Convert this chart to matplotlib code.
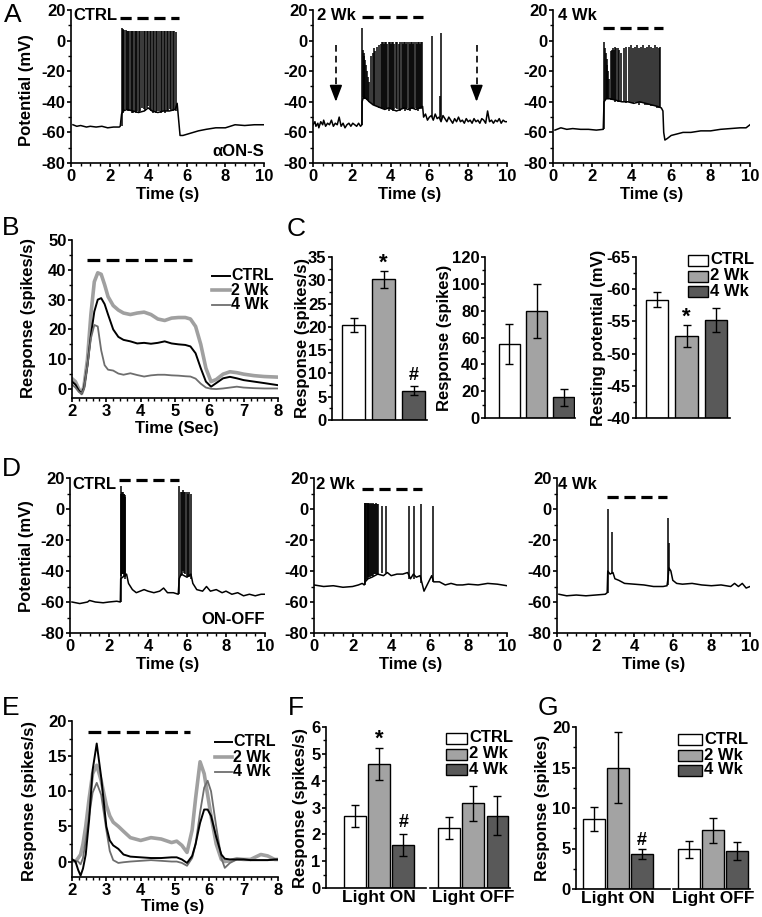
import numpy as np
import matplotlib
matplotlib.use('Agg')
import matplotlib.pyplot as plt
from matplotlib.patches import Rectangle
from matplotlib.lines import Line2D
from matplotlib.ticker import MultipleLocator

plt.rcParams['font.family'] = ['Liberation Sans', 'DejaVu Sans']
plt.rcParams['font.weight'] = 'bold'
plt.rcParams['axes.unicode_minus'] = False

# ---------------- DATA ----------------
groups = ['CTRL', '2 Wk', '4 Wk']
colors = ['#ffffff', '#a3a3a3', '#595959']
line_colors = ['#000000', '#a0a0a0', '#6e6e6e']

# Panel A1 (CTRL, aON-S) baseline trace and spikes
a1_base_t = [0.1, 0.3, 0.5, 0.8, 1.0, 1.3, 1.6, 1.9, 2.2, 2.5, 2.55, 2.62, 2.7, 2.9, 3.2, 3.5, 3.8, 4.0,
             4.2, 4.5, 4.8, 5.1, 5.4, 5.5, 5.55, 5.65, 5.8, 6.2, 6.6, 7.0, 7.5, 8.0, 8.5, 9.0, 9.5, 10.0]
a1_base_v = [-55, -56, -55.5, -56.5, -56, -56.5, -56, -57, -56.5, -56.5, -56, -48, -46, -45, -46, -47, -46, -44,
             -46, -47, -46, -46, -45, -41, -48, -62, -62, -60.5, -59, -58, -57, -57, -55, -55.5, -55, -55]
a1_spk_t = [2.62, 2.67, 2.72, 2.77, 2.83, 2.9, 2.96, 3.02, 3.09, 3.16,
            3.23, 3.3, 3.37, 3.44, 3.52, 3.6, 3.68, 3.76, 3.84, 3.92,
            4.0, 4.08, 4.16, 4.24, 4.32, 4.4, 4.48, 4.56, 4.64, 4.72,
            4.8, 4.88, 4.96, 5.04, 5.12, 5.2, 5.28, 5.36, 5.44]
a1_spk_hi = [8, 7.5, 7, 7, 7, 6.5, 6.5, 6.5, 6, 6,
             6, 6, 6, 6, 6, 6, 6.5, 6, 6, 6,
             6, 6, 6, 6, 6, 6, 6, 6, 6, 6,
             6, 6, 6, 6, 6, 6, 6, 6, 5.5]
a1_spk_lo = [-56, -47, -46, -46, -45, -45, -46, -46, -46, -47,
             -47, -46, -47, -46, -47, -46, -44, -45, -46, -44,
             -43, -45, -46, -47, -46, -47, -46, -46, -47, -46,
             -46, -47, -46, -46, -45, -46, -46, -45, -46]

# Panel A2 (2 Wk)
a2_base_t = [0.0, 0.1, 0.15, 0.25, 0.3, 0.4, 0.5, 0.55, 0.65, 0.75, 0.85, 0.95, 1.05, 1.15, 1.25, 1.35,
             1.45, 1.55, 1.65, 1.75, 1.85, 1.95, 2.05, 2.15, 2.25, 2.35, 2.45, 2.52,
             2.53, 2.6, 2.75, 2.9, 3.1, 3.3, 3.5, 3.7, 3.9, 4.1, 4.3, 4.5, 4.7, 4.9, 5.1, 5.3, 5.5, 5.65,
             5.7, 5.8, 5.9, 6.0, 6.1, 6.2, 6.3, 6.4, 6.5, 6.6, 6.7, 6.8, 6.9, 7.0, 7.1, 7.2, 7.3, 7.4,
             7.5, 7.6, 7.7, 7.8, 7.9, 8.0, 8.1, 8.2, 8.3, 8.4, 8.5, 8.6, 8.7, 8.8, 8.9, 9.0, 9.1, 9.2,
             9.3, 9.4, 9.5, 9.6, 9.7, 9.8, 9.9, 10.0]
a2_base_v = [-55, -53, -56, -54, -57, -53, -55, -52, -56, -54, -55, -52, -56, -54, -55, -50,
             -56, -54, -57, -55, -54, -56, -54, -55, -56, -54, -56, -55,
             -40, -37, -38, -40, -42, -43, -44, -45, -44, -45, -46, -45, -44, -45, -44, -45, -44, -43,
             -50, -48, -52, -50, -49, -52, -48, -51, -50, -53, -49, -51, -53, -50, -52, -54, -51, -53,
             -50, -53, -52, -54, -51, -53, -52, -54, -51, -53, -52, -54, -51, -52, -54, -46, -53, -52,
             -54, -52, -53, -51, -54, -52, -53, -53]
a2_spk_t = [2.52, 2.57, 2.61, 2.65, 2.69, 2.73, 2.78, 2.83, 2.88, 3.0,
            3.08, 3.15, 3.22, 3.3, 3.4,
            3.48, 3.55, 3.6, 3.66, 3.72, 3.78, 3.84, 3.9, 3.96, 4.02, 4.08, 4.14,
            4.2, 4.26, 4.32, 4.45, 4.51, 4.57, 4.63, 4.69, 4.75, 4.81, 4.87, 4.93,
            4.99, 5.05, 5.11, 5.17, 5.23, 5.29, 5.35, 5.41, 5.47, 5.53, 5.59, 5.64,
            6.12, 6.55, 6.6]
a2_spk_hi = [8, -6, -8, -10, -13, -16, -20, -24, -27, -10,
             -8, -5, -7, -4, -3,
             -2, -1, -1, -2, -1, -1, -2, -1, -1, -2, -1, -1,
             -2, -1, -1, -2, -1, -1, -2, -1, -1, -2, -1, -1,
             -2, -1, -1, -2, -1, -1, -2, -1, -1, -2, -1, -1,
             3, -36, 5]
a2_spk_lo = [-55, -37, -37, -38, -38, -38, -39, -39, -40, -41,
             -42, -42, -43, -43, -44,
             -44, -45, -44, -45, -45, -44, -45, -46, -45, -44, -45, -46,
             -45, -44, -45, -45, -46, -45, -44, -45, -46, -45, -44, -45,
             -46, -45, -44, -45, -45, -44, -45, -46, -45, -44, -45, -44,
             -50, -50, -52]
a2_arrow_t = [1.18, 8.43]

# Panel A3 (4 Wk)
a3_base_t = [0.1, 0.4, 0.7, 1.0, 1.4, 1.8, 2.2, 2.55, 2.59, 2.7, 2.9, 3.2, 3.5, 3.8, 4.1, 4.4, 4.7, 5.0,
             5.3, 5.5, 5.58, 5.62, 5.68, 5.8, 6.0, 6.3, 6.6, 7.0, 7.5, 8.0, 8.5, 9.0, 9.5, 9.8, 10.0]
a3_base_v = [-58.5, -57, -58, -57.5, -58, -58, -58.5, -58, -40, -38, -38, -39, -40, -40, -41, -40, -41, -42,
             -43, -44, -46, -60, -65, -64, -62, -61, -60, -60, -59, -59, -58, -57.5, -57, -57, -55]
a3_spk_t = [2.6, 2.64, 2.68, 2.72, 2.76, 2.8, 2.85, 2.92, 2.98, 3.04,
            3.1, 3.16, 3.22, 3.28, 3.34, 3.45,
            3.6, 3.72, 3.85, 3.95, 4.05, 4.15, 4.28, 4.38, 4.48, 4.58,
            4.68, 4.78, 4.88, 4.98, 5.08, 5.18, 5.28, 5.36, 5.44]
a3_spk_hi = [-1, -5, -8, -12, -16, -20, -25, -7, -6, -5,
             -6, -4, -5, -5, -6, -8,
             -5, -4, -4, -3, -5, -4, -3, -5, -4, -3,
             -5, -4, -3, -4, -5, -3, -4, -5, -4]
a3_spk_lo = [-58, -39, -38, -38, -38, -38, -38, -39, -39, -39,
             -39, -40, -39, -40, -40, -40,
             -40, -41, -40, -41, -41, -40, -41, -42, -41, -41,
             -42, -42, -42, -43, -43, -43, -44, -44, -44]

# Panel B (PSTH aON-S)
b_t = [2.0, 2.1, 2.2, 2.28, 2.35, 2.45, 2.55, 2.65, 2.75, 2.85, 2.95, 3.05, 3.2, 3.35, 3.5, 3.7, 3.9, 4.1,
       4.3, 4.5, 4.7, 4.9, 5.1, 5.3, 5.45, 5.6, 5.75, 5.9, 6.05, 6.2, 6.4, 6.6, 6.8, 7.0, 7.3, 7.6, 8.0]
b_ctrl = [2.5, 1.5, -0.5, -1.5, 0.5, 8, 18, 26, 30, 30.5, 28.5, 25, 20, 17.5, 16.5, 16, 15.3, 15.5,
          15.2, 15.5, 16, 15.3, 15, 14.8, 14.3, 12, 7, 2.5, 0.8, 2, 3.6, 4.1, 3.6, 3, 2.5, 2, 1.3]
b_2wk = [3.5, 2.5, 0, -1.5, 1, 10, 25, 36, 39, 38.5, 35, 31, 28, 26.5, 25.5, 25, 25.5, 25.8,
         25, 23.5, 23, 23.8, 24, 24, 23.5, 21, 15, 7, 2.5, 3.2, 5, 5.8, 5.5, 5, 4.5, 4.2, 4]
b_4wk = [1.5, 0.5, -1, -1.5, 0, 8, 17, 21.5, 21, 13, 8, 6.5, 6.2, 5.2, 4.8, 5.3, 4.7, 4.2,
         4.6, 4.8, 4.8, 4.6, 4.5, 4.3, 4.2, 3.5, 1.8, 0.5, 0.1, 0, 0.2, 0.5, 0.8, 0.5, 0.3, 0.2, 0.2]

# Panel C bars
c_rate_mean = [20.5, 30.2, 6.3]
c_rate_err = [1.5, 1.9, 0.9]
c_spk_mean = [55.1, 80.0, 15.4]
c_spk_err = [14.6, 20.0, 6.5]
c_rest_mean = [-58.4, -52.8, -55.2]
c_rest_err = [1.1, 1.7, 1.9]

# Panel D traces (ON-OFF)
d1_base_t = [0.1, 0.5, 0.9, 1.0, 1.3, 1.7, 2.0, 2.4, 2.58, 2.6, 2.9, 3.0, 3.2, 3.4, 3.6, 3.8, 4.0, 4.3,
             4.6, 4.8, 5.0, 5.3, 5.55, 5.6, 5.7, 6.0, 6.2, 6.3, 6.5, 6.8, 7.0, 7.2, 7.5, 7.8, 8.0, 8.3,
             8.6, 8.9, 9.2, 9.5, 9.8, 10.0]
d1_base_v = [-60, -61, -60, -59, -60, -60.5, -60, -59.5, -60, -45, -42, -48, -52, -54, -53, -52, -53, -54,
             -53, -51, -54, -54, -55, -45, -42, -44, -42, -48, -52, -53, -50, -53, -52, -54, -53, -55,
             -54, -56, -55, -56, -55, -55]
d1_spk_t = [2.6, 2.63, 2.66, 2.69, 2.72, 2.75, 2.78, 2.81, 2.84,
            5.6, 5.68, 5.74, 5.8, 5.86, 5.92, 5.98, 6.04, 6.1, 6.18]
d1_spk_hi = [15, 10, 11, 10, 11, 10, 10, 9, 8,
             15, 11, 11, 12, 11, 11, 11, 10, 11, 10]
d1_spk_lo = [-60, -43, -42, -42, -42, -42, -43, -44, -45,
             -55, -43, -42, -40, -41, -42, -43, -44, -44, -45]

d2_base_t = [0.0, 0.5, 1.0, 1.5, 2.0, 2.3, 2.5, 2.6, 2.65, 2.8, 3.0, 3.3, 3.6, 3.8, 4.0, 4.3, 4.6, 4.85,
             5.0, 5.15, 5.3, 5.5, 5.6, 5.7, 5.9, 6.1, 6.2, 6.5, 6.8, 7.1, 7.4, 7.7, 8.0, 8.5, 9.0, 9.5, 10.0]
d2_base_v = [-49, -50, -49.5, -50.5, -50, -49, -48, -49, -47, -45, -44, -42, -43, -41, -43, -42, -42, -41,
             -45, -42, -44, -43, -48, -53, -48, -43, -47, -47, -49, -48, -49, -49, -48.5, -49, -48, -48.5, -49.5]
d2_spk_t = [2.62, 2.66, 2.7, 2.74, 2.78, 2.82, 2.86, 2.9, 2.95, 3.0, 3.05,
            3.1, 3.15, 3.2, 3.25, 3.3, 3.52, 3.73, 4.9, 5.2, 5.56, 6.18]
d2_spk_hi = [4, 4, 4, 4, 4, 3, 4, 3, 4, 3, 4,
             3, 3, 4, 3, 3, 2, 2, 2, 2, 3, 2]
d2_spk_lo = [-49, -47, -46, -45, -45, -44, -44, -44, -43, -43, -43,
             -42, -42, -42, -42, -42, -41, -41, -45, -45, -48, -47]

d3_base_t = [0.1, 0.5, 1.0, 1.5, 2.0, 2.5, 2.6, 2.63, 2.75, 2.9, 3.0, 3.2, 3.5, 4.0, 4.5, 5.0, 5.5, 5.7,
             5.75, 5.8, 5.9, 6.0, 6.2, 6.5, 7.0, 7.5, 8.0, 8.5, 9.0, 9.2, 9.4, 9.6, 9.8, 10.0]
d3_base_v = [-55, -56, -55.5, -56, -55.5, -55, -54, -40, -42, -41, -45, -46, -48, -48.5, -49, -50, -50, -49.5,
             -45, -38, -40, -46, -48, -48.5, -48, -49, -49.5, -49, -50, -48, -50, -48, -51, -50]
d3_spk_t = [2.63, 2.84, 5.75, 5.8]
d3_spk_hi = [0, -15, -6, -22]
d3_spk_lo = [-54, -42, -49, -40]

# Panel E (PSTH ON-OFF)
e_t = [2.0, 2.1, 2.18, 2.25, 2.32, 2.4, 2.5, 2.6, 2.72, 2.85, 3.0, 3.1, 3.2, 3.35, 3.5, 3.7, 4.0, 4.3, 4.6, 4.9,
       5.05, 5.2, 5.35, 5.5, 5.6, 5.73, 5.85, 5.95, 6.05, 6.2, 6.35, 6.45, 6.6, 6.8, 7.0, 7.2, 7.5, 7.7, 7.9, 8.0]
e_ctrl = [0.3, 0, -1.2, -2, -1, 1, 6, 13, 16.8, 12, 5, 3, 2.3, 1.8, 1, 0.7, 0.6, 0.5, 0.5, 0.6,
          0.6, 0.3, -0.2, 0.8, 2.5, 5.5, 7.4, 7.4, 6.5, 3.5, 1, 0.4, 0.3, 0.3, 0.3, 0.2, 0.2, 0.2, 0.3, 0.3]
e_2wk = [0.2, 0, 0.5, 1, 2.5, 5, 9, 12.5, 13.7, 11.5, 8, 6.5, 5.6, 5, 4.3, 3.4, 3, 3.4, 3.2, 2.7,
         2.9, 2.3, 1.3, 4.5, 9, 14.2, 12.5, 9.5, 6.5, 2.5, 0.3, 0, 0.1, 0.4, 0.3, 0.3, 1.0, 0.8, 0.3, 0.3]
e_4wk = [0.3, 0.1, 0, -0.4, 0.5, 3, 6.5, 9.8, 11.2, 9.5, 4.5, 1.5, 0.2, -0.2, -0.1, 0, 0.1, 0.2, 0.1, 0,
         0, -0.2, -0.6, 0.5, 2.5, 7, 10.5, 11.5, 10, 5, 0.5, -0.9, -0.2, 0.3, 0.3, 0.2, 0.2, 0.2, 0.2, 0.2]

# Panels F, G bars (Light ON / Light OFF)
cond_labels = ['Light ON', 'Light OFF']
f_on_mean = [2.68, 4.63, 1.6]
f_on_err = [0.41, 0.6, 0.41]
f_off_mean = [2.25, 3.16, 2.69]
f_off_err = [0.41, 0.65, 0.72]
g_on_mean = [8.6, 15.0, 4.3]
g_on_err = [1.5, 4.4, 0.6]
g_off_mean = [4.9, 7.24, 4.7]
g_off_err = [1.05, 1.5, 1.1]

# ---------------- FIGURE ----------------
W, H = 762, 917
fig = plt.figure(figsize=(W / 100, H / 100), dpi=100)
FS_TICK = 12
FS_LAB = 12


def axpx(l, t, r, b):
    return fig.add_axes([l / W, 1 - b / H, (r - l) / W, (b - t) / H])


def ftext(x, y, s, **kw):
    fig.text(x / W, 1 - y / H, s, **kw)


def style(ax, xmaj=None, xmin=None, ymaj=None, ymin=None):
    for s in ['top', 'right']:
        ax.spines[s].set_visible(False)
    for s in ['left', 'bottom']:
        ax.spines[s].set_linewidth(1.2)
    ax.tick_params(which='major', direction='out', length=3.0, width=1.2, labelsize=FS_TICK, pad=1)
    ax.tick_params(which='minor', direction='out', length=2.0, width=1.0)
    if xmaj:
        ax.xaxis.set_major_locator(MultipleLocator(xmaj))
    if xmin:
        ax.xaxis.set_minor_locator(MultipleLocator(xmin))
    if ymaj:
        ax.yaxis.set_major_locator(MultipleLocator(ymaj))
    if ymin:
        ax.yaxis.set_minor_locator(MultipleLocator(ymin))


def stim(ax, t0, t1, y, dash=(3.5, 1.8)):
    ax.plot([t0, t1], [y, y], color='k', lw=2.3, dashes=dash, solid_capstyle='butt',
            dash_capstyle='butt', clip_on=False)


def trace(box, bt, bv, st, slo, shi):
    ax = axpx(*box)
    ax.plot(bt, bv, color='k', lw=1.1)
    ax.vlines(st, slo, shi, color='k', lw=1.1)
    ax.set_xlim(0, 10)
    ax.set_ylim(-80, 20)
    style(ax, 2, 0.5, 20, 10)
    return ax


def panel_letter(x, y, s):
    ftext(x, y, s, fontsize=19, fontweight='normal', ha='center', va='center')


def box_legend(x, ys, w=20, h=11, fs=12):
    for yc, c, lab in zip(ys, colors, groups):
        fig.add_artist(Rectangle((x / W, 1 - (yc + h / 2) / H), w / W, h / H,
                                 transform=fig.transFigure, fc=c, ec='k', lw=1))
        ftext(x + w + 2, yc, lab, fontsize=fs, ha='left', va='center')


def line_legend(x0, x1, ys, lws, fs=12):
    for yc, c, lab, lw in zip(ys, line_colors, groups, lws):
        fig.add_artist(Line2D([x0 / W, x1 / W], [1 - yc / H] * 2, transform=fig.transFigure,
                              color=c, lw=lw))
        ftext(x1 + 1, yc, lab, fontsize=fs, ha='left', va='center')


# ---- Row A ----
axA1 = trace((71, 10, 264, 163), a1_base_t, a1_base_v, a1_spk_t, a1_spk_lo, a1_spk_hi)
stim(axA1, 2.55, 5.6, 15)
ftext(73, 16, 'CTRL', fontsize=FS_LAB, ha='left', va='center')
axA1.text(10, -72.5, 'αON-S', ha='right', va='center', fontsize=FS_LAB)

axA2 = trace((313, 10, 507, 163), a2_base_t, a2_base_v, a2_spk_t, a2_spk_lo, a2_spk_hi)
stim(axA2, 2.52, 5.65, 15.5)
ftext(317, 16, '2 Wk', fontsize=FS_LAB, ha='left', va='center')
for t in a2_arrow_t:
    axA2.plot([t, t], [-3, -31], color='k', lw=1.2, dashes=(4, 2.5))
    axA2.annotate('', xy=(t, -40), xytext=(t, -30),
                  arrowprops=dict(arrowstyle='-|>,head_width=0.38,head_length=1.0',
                                  color='k', lw=1.2, shrinkA=0, shrinkB=0))

axA3 = trace((553, 10, 750, 163), a3_base_t, a3_base_v, a3_spk_t, a3_spk_lo, a3_spk_hi)
stim(axA3, 2.56, 5.6, 8)
ftext(558, 16, '4 Wk', fontsize=FS_LAB, ha='left', va='center')

for cx in [(71 + 264) / 2, (313 + 507) / 2, (553 + 750) / 2]:
    ftext(cx, 194, 'Time (s)', fontsize=FS_LAB, ha='center', va='center')
ftext(27, 90, 'Potential (mV)', fontsize=FS_LAB, rotation=90, ha='center', va='center')

# ---- Row B ----
axB = axpx(72, 240, 278, 398)
axB.plot(b_t, b_2wk, color=line_colors[1], lw=2.6)
axB.plot(b_t, b_ctrl, color=line_colors[0], lw=1.4)
axB.plot(b_t, b_4wk, color=line_colors[2], lw=1.3)
axB.set_xlim(2, 8)
axB.set_ylim(-3, 50)
style(axB, 1, 0.2, 10, 5)
stim(axB, 2.43, 5.49, 43.3, dash=(4.0, 2.0))
line_legend(212, 230, [276, 290.5, 305], [1.4, 2.6, 1.3], fs=11.5)
ftext(177, 429, 'Time (Sec)', fontsize=FS_LAB, ha='center', va='center')
ftext(29, 318, 'Response (spikes/s)', fontsize=FS_LAB, rotation=90, ha='center', va='center')

# ---- Row C ----
pos3 = np.arange(3)
axC1 = axpx(332, 257, 427, 420)
axC1.bar(pos3, c_rate_mean, width=0.77, color=colors, edgecolor='k', lw=1)
axC1.errorbar(pos3, c_rate_mean, yerr=c_rate_err, fmt='none', ecolor='k', elinewidth=1, capsize=3, capthick=1)
axC1.set_xlim(-0.72, 2.45)
axC1.set_ylim(0, 35)
style(axC1, None, None, 5, 2.5)
axC1.set_xticks([])
axC1.text(1, 33.6, '*', ha='center', va='center', fontsize=16)
axC1.text(2, 9.6, '#', ha='center', va='center', fontsize=13)
ftext(302, 338, 'Response (spikes/s)', fontsize=FS_LAB, rotation=90, ha='center', va='center')

axC2 = axpx(485, 257, 575, 418)
axC2.bar(pos3, c_spk_mean, width=0.8, color=colors, edgecolor='k', lw=1)
axC2.errorbar(pos3, c_spk_mean, yerr=c_spk_err, fmt='none', ecolor='k', elinewidth=1, capsize=3, capthick=1)
axC2.set_xlim(-0.9, 2.42)
axC2.set_ylim(0, 120)
style(axC2, None, None, 20, 10)
axC2.set_xticks([])
ftext(445, 338, 'Response (spikes)', fontsize=FS_LAB, rotation=90, ha='center', va='center')

axC3 = axpx(636, 257, 730, 418)
axC3.bar(pos3, np.array(c_rest_mean) + 40, bottom=-40, width=0.75, color=colors, edgecolor='k', lw=1)
axC3.errorbar(pos3, c_rest_mean, yerr=c_rest_err, fmt='none', ecolor='k', elinewidth=1, capsize=3, capthick=1)
axC3.set_xlim(-0.71, 2.47)
axC3.set_ylim(-40, -65)
style(axC3, None, None, 5, 2.5)
axC3.set_xticks([])
axC3.text(1, -55.6, '*', ha='center', va='center', fontsize=16)
ftext(599, 338, 'Resting potential (mV)', fontsize=FS_LAB, rotation=90, ha='center', va='center')
box_legend(688, [260, 276, 291])

# ---- Row D ----
axD1 = trace((70, 478, 265, 633), d1_base_t, d1_base_v, d1_spk_t, d1_spk_lo, d1_spk_hi)
stim(axD1, 2.5, 5.6, 18.5)
ftext(72, 485, 'CTRL', fontsize=FS_LAB, ha='left', va='center')
axD1.text(10, -71.5, 'ON-OFF', ha='right', va='center', fontsize=FS_LAB)

axD2 = trace((314, 478, 507, 633), d2_base_t, d2_base_v, d2_spk_t, d2_spk_lo, d2_spk_hi)
stim(axD2, 2.5, 5.6, 13)
ftext(316, 485, '2 Wk', fontsize=FS_LAB, ha='left', va='center')

axD3 = trace((557, 478, 750, 633), d3_base_t, d3_base_v, d3_spk_t, d3_spk_lo, d3_spk_hi)
stim(axD3, 2.6, 5.7, 7.5)
ftext(558, 485, '4 Wk', fontsize=FS_LAB, ha='left', va='center')

for cx in [(70 + 265) / 2, (314 + 507) / 2, (557 + 750) / 2]:
    ftext(cx, 664, 'Time (s)', fontsize=FS_LAB, ha='center', va='center')
ftext(27, 556, 'Potential (mV)', fontsize=FS_LAB, rotation=90, ha='center', va='center')

# ---- Row E ----
axE = axpx(72, 721, 278, 877)
axE.plot(e_t, e_2wk, color=line_colors[1], lw=2.6)
axE.plot(e_t, e_4wk, color=line_colors[2], lw=1.3)
axE.plot(e_t, e_ctrl, color=line_colors[0], lw=1.4)
axE.set_xlim(2, 8)
axE.set_ylim(-2.2, 20)
style(axE, 1, 0.2, 5, 2.5)
stim(axE, 2.47, 5.44, 18.5, dash=(4.0, 2.0))
line_legend(215, 232, [742, 757, 772], [1.4, 2.6, 1.3], fs=11.5)
ftext(173, 906, 'Time (s)', fontsize=FS_LAB, ha='center', va='center')
ftext(30, 801, 'Response (spikes/s)', fontsize=FS_LAB, rotation=90, ha='center', va='center')


def cond_bars(box, on_m, on_e, off_m, off_e, off_shift, width, xlim, ylim, ymaj, ymin, breaks):
    ax = axpx(*box)
    p_on = np.arange(3)
    p_off = np.arange(3) + off_shift
    for p, m, e in [(p_on, on_m, on_e), (p_off, off_m, off_e)]:
        ax.bar(p, m, width=width, color=colors, edgecolor='k', lw=1)
        ax.errorbar(p, m, yerr=e, fmt='none', ecolor='k', elinewidth=1, capsize=3, capthick=1)
    ax.set_xlim(*xlim)
    ax.set_ylim(*ylim)
    style(ax, None, None, ymaj, ymin)
    ax.spines['bottom'].set_visible(False)
    ax.plot([xlim[0], breaks[0]], [0, 0], color='k', lw=1.2, clip_on=False)
    ax.plot([breaks[1], xlim[1]], [0, 0], color='k', lw=1.2, clip_on=False)
    ax.set_xticks([1, 1 + off_shift])
    ax.set_xticklabels(cond_labels, fontsize=12.5)
    ax.tick_params(axis='x', length=0, pad=1.5)
    return ax


axF = cond_bars((326, 727, 510, 888), f_on_mean, f_on_err, f_off_mean, f_off_err, 3.9, 0.9,
                (-1.2, 6.42), (0, 6), 1, 0.5, (2.96, 3.09))
axF.text(1, 5.55, '*', ha='center', va='center', fontsize=16)
axF.text(2, 2.44, '#', ha='center', va='center', fontsize=13)
box_legend(446, [738, 754, 769], w=21)
ftext(301, 808, 'Response (spikes/s)', fontsize=FS_LAB, rotation=90, ha='center', va='center')

axG = cond_bars((576, 727, 750, 889), g_on_mean, g_on_err, g_off_mean, g_off_err, 3.96, 0.92,
                (-0.75, 6.5), (0, 20), 5, 2.5, (3.15, 3.3))
axG.text(2, 6.0, '#', ha='center', va='center', fontsize=13)
box_legend(678, [739, 755, 770], w=24)
ftext(543, 808, 'Response (spikes)', fontsize=FS_LAB, rotation=90, ha='center', va='center')

# ---- Panel letters ----
panel_letter(13, 15, 'A')
panel_letter(11, 228, 'B')
panel_letter(296, 229, 'C')
panel_letter(11, 469, 'D')
panel_letter(11, 708, 'E')
panel_letter(296, 708, 'F')
panel_letter(548, 708, 'G')

fig.savefig('out.png', dpi=100)
